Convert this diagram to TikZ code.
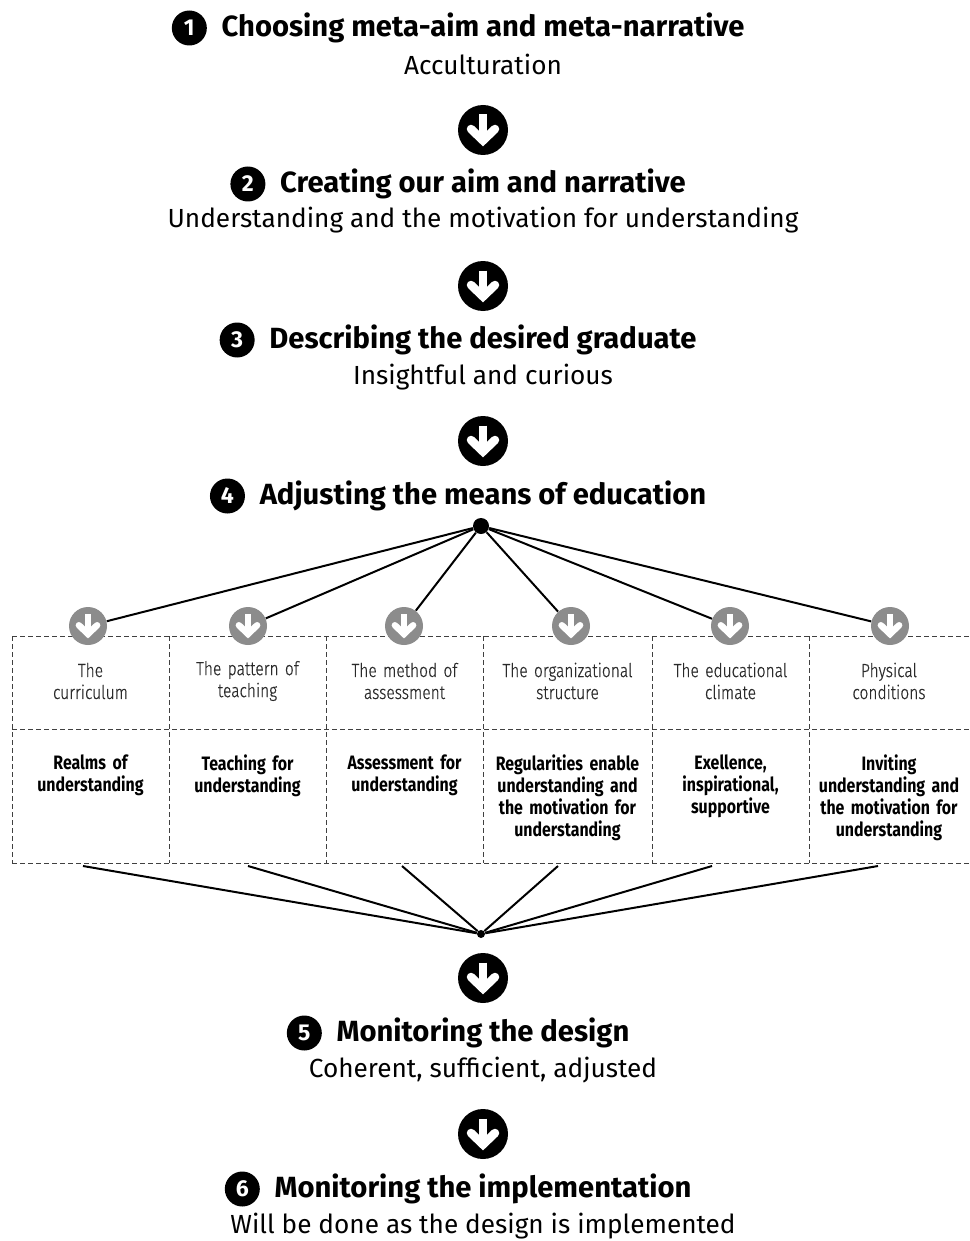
\documentclass[tikz,border=0pt]{standalone}
\usepackage{fontspec}
\setmainfont{Fira Sans}
\newfontfamily\condfont{Fira Sans}[FakeStretch=0.82]
\newfontfamily\condlight{Fira Sans Light}[FakeStretch=0.82, FakeBold=0.6]
\usepackage{tikz}
\usetikzlibrary{positioning}
\usepackage{xcolor}
\definecolor{iconGray}{HTML}{8C8C8C}
\definecolor{gridGray}{HTML}{404040}
\definecolor{headGray}{HTML}{2A2A2A}
\tikzset{%
	darrow/.style 2 args={
		circle,
		fill=#1,
		inner sep=0pt,
		minimum size=#2,
		path picture={
			\draw[white, line width=0.17*#2, line cap=butt]
				([yshift=0.31*#2]path picture bounding box.center) -- ([yshift=-0.18*#2]path picture bounding box.center);
			\draw[white, line width=0.17*#2, line cap=round, line join=miter]
				([shift={(-0.24*#2,0.02*#2)}]path picture bounding box.center) -- ([yshift=-0.21*#2]path picture bounding box.center) -- ([shift={(0.24*#2,0.02*#2)}]path picture bounding box.center);
		}
	},
}

\begin{document}
\begin{tikzpicture}[x=0.5pt,y=-0.5pt]
			\tikzstyle{badge}=[circle, fill=black, text=white, inner sep=0pt, minimum size=17.5pt, font=\bfseries\fontsize{11.5}{11.5}\selectfont]
			\tikzstyle{steptitle}=[inner sep=1pt, font=\bfseries\fontsize{14.6}{17}\selectfont]
			\tikzstyle{subline}=[inner sep=1pt, font=\fontsize{13.1}{15}\selectfont]
			\tikzstyle{headtext}=[text width=74pt, align=center, inner sep=0pt, text=headGray, font=\condlight\fontsize{9.5}{11}\selectfont]
			\tikzstyle{bodytext}=[text width=78pt, align=center, inner sep=0pt, anchor=north, font=\condfont\bfseries\fontsize{9.7}{11}\selectfont]
			\tikzstyle{grid}=[gridGray, line width=0.5pt, dash pattern=on 2.5pt off 1.5pt]
			\tikzstyle{link}=[black, line width=1pt]
			
			\useasboundingbox (0,0) rectangle (969,1241);
			
			% step 1
			\node[steptitle](t1) at (483,28){Choosing meta-aim and meta-narrative};
			\node[badge, left=6pt of t1](b1){1};
			\node[subline](s1) at (483,64){Acculturation};
			\node[darrow={black}{25pt}](a1) at (483,130){};
			
			% step 2
			\node[steptitle](t2) at (483,184){Creating our aim and narrative};
			\node[badge, left=6pt of t2](b2){2};
			\node[subline](s2) at (483,220){Understanding and the motivation for understanding};
			\node[darrow={black}{25pt}](a2) at (483,286){};
			
			% step 3
			\node[steptitle](t3) at (483,340){Describing the desired graduate};
			\node[badge, left=6pt of t3](b3){3};
			\node[subline](s3) at (483,377){Insightful and curious};
			\node[darrow={black}{25pt}](a3) at (483,441){};
			
			% step 4
			\node[steptitle](t4) at (483,496){Adjusting the means of education};
			\node[badge, left=6pt of t4](b4){4};
			\node[circle, fill=black, inner sep=0pt, minimum size=8pt](hub) at (481,526){};
			
			% the table of means
			\draw[grid] (12,636) -- (969,636);
			\draw[grid] (12,729) -- (969,729);
			\draw[grid] (12,863) -- (969,863);
			\draw[grid] (12,636) -- (12,863);
			\draw[grid] (169,636) -- (169,863);
			\draw[grid] (326,636) -- (326,863);
			\draw[grid] (483,636) -- (483,863);
			\draw[grid] (652,636) -- (652,863);
			\draw[grid] (809,636) -- (809,863);
			
			\node[darrow={iconGray}{19pt}](g1) at (88,626){};
			\node[darrow={iconGray}{19pt}](g2) at (248,626){};
			\node[darrow={iconGray}{19pt}](g3) at (404,626){};
			\node[darrow={iconGray}{19pt}](g4) at (571,626){};
			\node[darrow={iconGray}{19pt}](g5) at (730,626){};
			\node[darrow={iconGray}{19pt}](g6) at (890,626){};
			
			\draw[link] (hub) -- (g1);
			\draw[link] (hub) -- (g2);
			\draw[link] (hub) -- (g3);
			\draw[link] (hub) -- (g4);
			\draw[link] (hub) -- (g5);
			\draw[link] (hub) -- (g6);
			
			\node[headtext](h1) at (90.5,681){The\\curriculum};
			\node[headtext](h2) at (247.5,681){The pattern of\\teaching};
			\node[headtext](h3) at (404.5,681){The method of\\assessment};
			\node[headtext](h4) at (567.5,681){The organizational\\structure};
			\node[headtext](h5) at (730.5,681){The educational\\climate};
			\node[headtext](h6) at (889,681){Physical\\conditions};
			
			\node[bodytext](r1) at (90.5,754){Realms of\\understanding};
			\node[bodytext](r2) at (247.5,754){Teaching for\\understanding};
			\node[bodytext](r3) at (404.5,754){Assessment for\\understanding};
			\node[bodytext](r4) at (567.5,754){Regularities enable\\understanding and\\the motivation for\\understanding};
			\node[bodytext](r5) at (730.5,754){Exellence,\\inspirational,\\supportive};
			\node[bodytext](r6) at (889,754){Inviting\\understanding and\\the motivation for\\understanding};
			
			% gathering the means again
			\coordinate (e1) at (83,866);
			\coordinate (e2) at (248,866);
			\coordinate (e3) at (402,866);
			\coordinate (e4) at (558,866);
			\coordinate (e5) at (712,866);
			\coordinate (e6) at (878,866);
			\node[circle, fill=black, inner sep=0pt, minimum size=4pt](low) at (481,934){};
			
			\draw[link] (e1) -- (low);
			\draw[link] (e2) -- (low);
			\draw[link] (e3) -- (low);
			\draw[link] (e4) -- (low);
			\draw[link] (e5) -- (low);
			\draw[link] (e6) -- (low);
			
			\node[darrow={black}{25pt}](a4) at (483,978){};
			
			% step 5
			\node[steptitle](t5) at (483,1033){Monitoring the design};
			\node[badge, left=6pt of t5](b5){5};
			\node[subline](s5) at (483,1070){Coherent, sufficient, adjusted};
			\node[darrow={black}{25pt}](a5) at (483,1134){};
			
			% step 6
			\node[steptitle](t6) at (483,1189){Monitoring the implementation};
			\node[badge, left=6pt of t6](b6){6};
			\node[subline](s6) at (483,1226){Will be done as the design is implemented};
		\end{tikzpicture}
\end{document}
